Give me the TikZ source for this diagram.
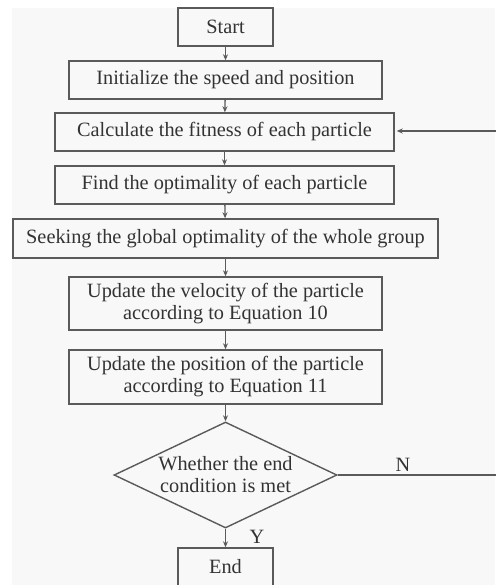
\documentclass[tikz,border=0pt]{standalone}
\usepackage{fontspec}
\setmainfont{Liberation Serif}
\usetikzlibrary{shapes.geometric,arrows.meta}
\definecolor{linec}{HTML}{5A5A5A}
\definecolor{textc}{HTML}{333333}
\definecolor{bgc}{HTML}{F8F8F8}
\begin{document}
\begin{tikzpicture}[x=1pt,y=-1pt,
  box/.style={draw=linec,line width=1.4pt,rectangle,inner sep=0pt,text=textc,align=center,font=\fontsize{20.3}{22}\selectfont},
  arr/.style={draw=linec,line width=1.3pt,-{Stealth[length=6pt,width=5pt]}},
  lab/.style={text=textc,font=\fontsize{20.3}{22}\selectfont,inner sep=0pt}]
\useasboundingbox (0,0) rectangle (495,585);
\fill[white] (0,0) rectangle (495,585);
\fill[bgc] (12,8) rectangle (495,585);
\node[box,minimum width=95pt,minimum height=38pt] (start) at (225.5,27) {Start};
\node[box,minimum width=313pt,minimum height=38pt] (init) at (225.5,80) {Initialize the speed and position};
\node[box,minimum width=339pt,minimum height=38pt] (calc) at (224.5,132) {Calculate the fitness of each particle};
\node[box,minimum width=339pt,minimum height=38pt] (find) at (224.5,185) {Find the optimality of each particle};
\node[box,minimum width=425pt,minimum height=39pt] (seek) at (225.5,238.5) {Seeking the global optimality of the whole group};
\node[box,minimum width=313pt,minimum height=53pt] (vel) at (225.5,303.5) {Update the velocity of the particle\\according to Equation 10};
\node[box,minimum width=313pt,minimum height=54pt] (pos) at (225.5,377) {Update the position of the particle\\according to Equation 11};
\node[draw=linec,line width=1.4pt,diamond,aspect=2.1,minimum width=223pt,minimum height=106pt,inner sep=0pt] (dec) at (225.5,475) {};
\node[lab,align=center] (dtext) at (dec.center) {Whether the end\\condition is met};
\node[box,minimum width=95pt,minimum height=38pt] (end) at (225.5,567) {End};
\coordinate (ret) at (504,475);
\draw[arr] (start) -- (init);
\draw[arr] (init) -- (calc);
\draw[arr] (calc) -- (find);
\draw[arr] (find) -- (seek);
\draw[arr] (seek) -- (vel);
\draw[arr] (vel) -- (pos);
\draw[arr] (pos) -- (dec);
\draw[arr] (dec) -- (end);
\draw[arr] (dec.east) -- (ret) |- ([xshift=2pt,yshift=1pt]calc.east);
\node[lab] (nlab) at (403,465) {N};
\node[lab] (ylab) at (257,537) {Y};
\end{tikzpicture}
\end{document}
